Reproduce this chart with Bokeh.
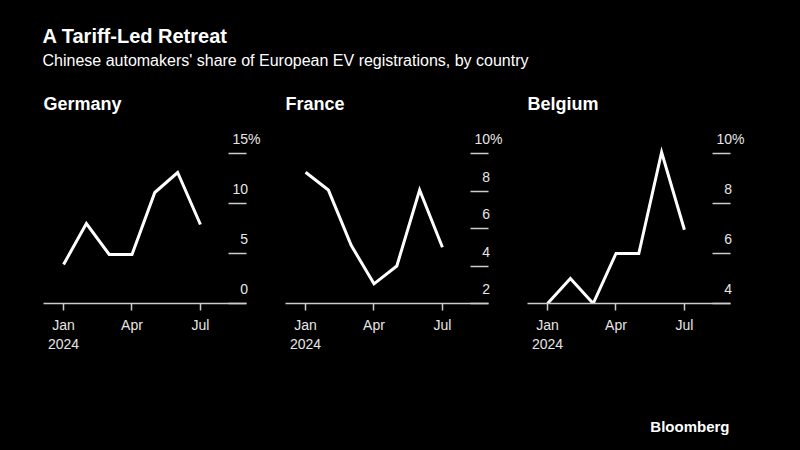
from bokeh.plotting import figure
from bokeh.models import LinearAxis, FixedTicker, Range1d, Title
from bokeh.layouts import column, row
from bokeh.embed import file_html
from bokeh.resources import INLINE

# ---- data ----
months = [0, 1, 2, 3, 4, 5, 6]          # Jan .. Jul 2024
month_ticks = [0, 3, 6]
month_labels = ["Jan\n2024", "Apr", "Jul"]

countries = ["Germany", "France", "Belgium"]
germany = [3.9, 8.0, 4.9, 4.9, 11.1, 13.1, 7.9]
france = [9.0, 8.05, 5.1, 3.05, 4.0, 8.05, 5.0]
belgium = [4.0, 5.0, 4.0, 6.0, 6.0, 10.05, 6.95]

germany_ticks = [0, 5, 10, 15]
germany_tick_labels = ["\u20070", "\u20075", "10", "15%"]
france_ticks = [2, 4, 6, 8, 10]
france_tick_labels = ["\u20072", "\u20074", "\u20076", "\u20078", "10%"]
belgium_ticks = [4, 6, 8, 10]
belgium_tick_labels = ["\u20074", "\u20076", "\u20078", "10%"]

title_text = "A Tariff-Led Retreat"
subtitle_text = "Chinese automakers' share of European EV registrations, by country"
source_text = "Bloomberg"

FONT = "Liberation Sans"
BG = "#000000"
AXIS_C = "#cccccc"
LABEL_C = "#e6e6e6"

HEADER_H = 88
FOOTER_H = 36
PANEL_H = 450 - HEADER_H - FOOTER_H
TOP = 28
FRAME_H = 187
TICK_SPAN_PX = 150
LABEL_SHIFT_PX = 14.5


def style_bare(p):
    p.background_fill_color = BG
    p.border_fill_color = BG
    p.outline_line_color = None
    p.grid.visible = False


def make_panel(name, values, ticks, tick_labels, width, left, right):
    b, t = ticks[0], ticks[-1]
    per_px = (t - b) / TICK_SPAN_PX
    end = b + per_px * FRAME_H
    d = per_px * LABEL_SHIFT_PX
    p = figure(width=width, height=PANEL_H, output_backend="svg", toolbar_location=None,
               x_range=Range1d(-0.88, 8.02), y_range=Range1d(b, end),
               y_axis_location=None, title=name,
               min_border_left=left, min_border_right=right,
               min_border_top=TOP, min_border_bottom=PANEL_H - TOP - FRAME_H)
    p.extra_y_ranges = {"lab": Range1d(b - d, end - d)}
    style_bare(p)

    p.title.text_font = FONT
    p.title.text_font_size = "18px"
    p.title.text_font_style = "bold"
    p.title.text_color = "#ffffff"
    p.title.standoff = 6
    p.title.offset = 0

    xa = p.xaxis[0]
    xa.ticker = FixedTicker(ticks=month_ticks)
    xa.major_label_overrides = dict(zip(month_ticks, month_labels))
    xa.major_tick_out = 7
    xa.major_tick_in = 0
    xa.minor_tick_line_color = None
    xa.axis_line_color = AXIS_C
    xa.axis_line_width = 1.5
    xa.major_tick_line_color = AXIS_C
    xa.major_tick_line_width = 1.5
    xa.major_label_text_color = LABEL_C
    xa.major_label_text_font = FONT
    xa.major_label_text_font_size = "14px"
    xa.major_label_standoff = 6

    dash = LinearAxis(ticker=FixedTicker(ticks=ticks), major_tick_in=18, major_tick_out=0,
                      major_tick_line_color=AXIS_C, major_tick_line_width=1.5,
                      minor_tick_line_color=None, axis_line_color=None,
                      major_label_text_color=None, major_label_standoff=0)
    p.add_layout(dash, "right")
    lab = LinearAxis(y_range_name="lab", ticker=FixedTicker(ticks=ticks),
                     major_label_overrides=dict(zip(ticks, tick_labels)),
                     major_tick_in=0, major_tick_out=0, minor_tick_line_color=None,
                     major_tick_line_color=None, axis_line_color=None,
                     major_label_standoff=-14, major_label_text_color=LABEL_C,
                     major_label_text_font=FONT, major_label_text_font_size="14px")
    p.add_layout(lab, "right")

    p.line(months, values, line_color="#ffffff", line_width=3, line_join="miter")
    return p


header = figure(width=800, height=HEADER_H, output_backend="svg", toolbar_location=None,
                x_axis_location=None, y_axis_location=None,
                min_border_left=42, min_border_right=0, min_border_top=70, min_border_bottom=0)
style_bare(header)
header.add_layout(Title(text=subtitle_text, text_font=FONT, text_font_size="16px",
                        text_font_style="normal", text_color="#ffffff", standoff=4), "above")
header.add_layout(Title(text=title_text, text_font=FONT, text_font_size="20px",
                        text_font_style="bold", text_color="#ffffff", standoff=2), "above")

p1 = make_panel(countries[0], germany, germany_ticks, germany_tick_labels, 266, 43, 20)
p2 = make_panel(countries[1], france, france_ticks, france_tick_labels, 242, 19, 20)
p3 = make_panel(countries[2], belgium, belgium_ticks, belgium_tick_labels, 292, 19, 70)

footer = figure(width=800, height=FOOTER_H, output_backend="svg", toolbar_location=None,
                x_axis_location=None, y_axis_location=None,
                min_border_left=42, min_border_right=71, min_border_top=20, min_border_bottom=0)
style_bare(footer)
footer.add_layout(Title(text=source_text, align="right", text_font=FONT,
                        text_font_size="15px", text_font_style="bold",
                        text_color="#ffffff", standoff=2), "above")

layout = column(header, row(p1, p2, p3), footer, spacing=0)
layout.styles = {"background-color": BG}

template = """
{% block postamble %}<style>html, body { background-color: #000000; }</style>{% endblock %}
"""

open("out.html", "w").write(file_html(layout, INLINE, template=template))
